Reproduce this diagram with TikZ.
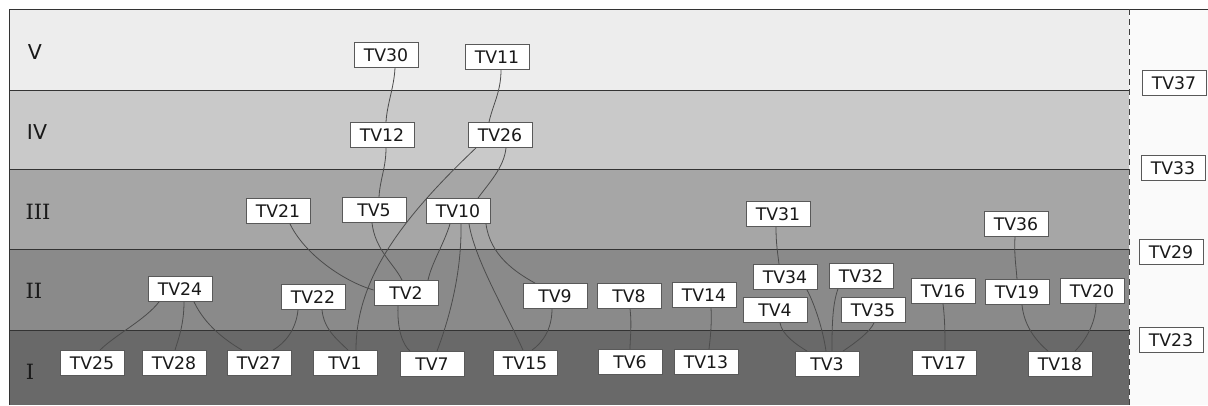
\documentclass[tikz,border=0pt]{standalone}
\usepackage{fontspec}
\newfontfamily\tvfont{DejaVu Sans}
\newfontfamily\lvfont{DejaVu Serif}
\begin{document}
\begin{tikzpicture}[x=1pt,y=-1pt,
  tv/.style={draw=black!65, fill=white, line width=0.8pt, minimum width=64pt,
    minimum height=25pt, inner sep=0pt, font=\tvfont\fontsize{17.3}{18}\selectfont, text=black!90},
  link/.style={draw=black!70, line width=0.8pt},
  bandsep/.style={draw=black!80, line width=0.9pt},
  lvsans/.style={font=\tvfont\fontsize{20.5}{21}\selectfont, text=black!90},
  lvserif/.style={font=\lvfont\fontsize{21}{21}\selectfont, text=black!90}]
\useasboundingbox (0,0) rectangle (1208,405);
% level bands
\fill[white] (0,0) rectangle (1208,405);
\fill[black!7]  (9,9)   rectangle (1129,90);
\fill[black!21] (9,90)  rectangle (1129,169);
\fill[black!35] (9,169) rectangle (1129,249);
\fill[black!46] (9,249) rectangle (1129,330);
\fill[black!59] (9,330) rectangle (1129,405);
\fill[black!2]  (1129,9) rectangle (1208,405);
\draw[bandsep] (9,90) -- (1129,90);
\draw[bandsep] (9,169) -- (1129,169);
\draw[bandsep] (9,249) -- (1129,249);
\draw[bandsep] (9,330) -- (1129,330);
\draw[bandsep] (9,405) -- (9,9) -- (1208,9);
\draw[black!75, line width=0.9pt, dash pattern=on 6pt off 4pt] (1129,9) -- (1129,405);
% level labels
\node[lvsans]  (lV)   at (35,52)  {V};
\node[lvsans]  (lIV)  at (37,132) {IV};
\node[lvserif] (lIII) at (38,212) {III};
\node[lvserif] (lII)  at (34,291) {II};
\node[lvserif] (lI)   at (30,372) {I};
% level V
\node[tv] (TV30) at (386,55) {TV30};
\node[tv] (TV11) at (497,57) {TV11};
% level IV
\node[tv] (TV12) at (382,135) {TV12};
\node[tv] (TV26) at (500,135) {TV26};
% level III
\node[tv] (TV21) at (278,211) {TV21};
\node[tv] (TV5)  at (374,210) {TV5};
\node[tv] (TV10) at (458,211) {TV10};
\node[tv] (TV31) at (778,214) {TV31};
\node[tv] (TV36) at (1016,224) {TV36};
% level II
\node[tv] (TV24) at (180,289) {TV24};
\node[tv] (TV22) at (313,297) {TV22};
\node[tv] (TV2)  at (406,293) {TV2};
\node[tv] (TV9)  at (555,296) {TV9};
\node[tv] (TV8)  at (629,296) {TV8};
\node[tv] (TV14) at (704,295) {TV14};
\node[tv] (TV34) at (785,277) {TV34};
\node[tv] (TV32) at (861,276) {TV32};
\node[tv] (TV4)  at (775,310) {TV4};
\node[tv] (TV35) at (873,310) {TV35};
\node[tv] (TV16) at (943,291) {TV16};
\node[tv] (TV19) at (1017,292) {TV19};
\node[tv] (TV20) at (1092,291) {TV20};
% level I
\node[tv] (TV25) at (92,363)  {TV25};
\node[tv] (TV28) at (174,363) {TV28};
\node[tv] (TV27) at (259,363) {TV27};
\node[tv] (TV1)  at (345,363) {TV1};
\node[tv] (TV7)  at (432,364) {TV7};
\node[tv] (TV15) at (525,363) {TV15};
\node[tv] (TV6)  at (630,362) {TV6};
\node[tv] (TV13) at (706,362) {TV13};
\node[tv] (TV3)  at (827,364) {TV3};
\node[tv] (TV17) at (944,363) {TV17};
\node[tv] (TV18) at (1060,364) {TV18};
% unconnected column
\node[tv] (TV37) at (1174,83)  {TV37};
\node[tv] (TV33) at (1173,168) {TV33};
\node[tv] (TV29) at (1171,252) {TV29};
\node[tv] (TV23) at (1171,340) {TV23};
% links
\draw[link] ([xshift=9]TV30.south) .. controls +(-1,20) and +(1,-18) .. ([xshift=4]TV12.north);
\draw[link] ([xshift=4]TV12.south) .. controls +(0,20) and +(1,-18) .. ([xshift=5]TV5.north);
\draw[link] ([xshift=4]TV11.south) .. controls +(0,22) and +(4,-18) .. ([xshift=-11]TV26.north);
\draw[link] ([xshift=-24]TV26.south) .. controls (400,220) and (356,280) .. ([xshift=11]TV1.north);
\draw[link] ([xshift=6]TV26.south) .. controls +(-2,20) and +(10,-14) .. ([xshift=20]TV10.north);
\draw[link] ([xshift=12]TV21.south) .. controls (305,255) and (345,282) .. ([yshift=3]TV2.west);
\draw[link] ([xshift=-2]TV5.south) .. controls (375,250) and (395,265) .. ([xshift=-4]TV2.north);
\draw[link] ([xshift=-8]TV10.south) .. controls +(-6,20) and +(4,-18) .. ([xshift=22]TV2.north);
\draw[link] ([xshift=3]TV10.south) .. controls (462,280) and (445,330) .. ([xshift=5]TV7.north);
\draw[link] ([xshift=11]TV10.south) .. controls (475,260) and (505,310) .. ([xshift=-2]TV15.north);
\draw[link] ([xshift=28]TV10.south) .. controls (490,255) and (515,272) .. ([xshift=-20]TV9.north);
\draw[link] ([xshift=-8]TV2.south) .. controls (397,330) and (403,345) .. ([xshift=-22]TV7.north);
\draw[link] ([xshift=-15]TV22.south) .. controls (296,330) and (285,343) .. ([xshift=14]TV27.north);
\draw[link] ([xshift=14]TV24.south) .. controls (205,325) and (225,340) .. ([xshift=-17]TV27.north);
\draw[link] ([xshift=9]TV22.south) .. controls (324,330) and (338,340) .. ([xshift=3]TV1.north);
\draw[link] ([xshift=-21]TV24.south) .. controls (145,320) and (115,335) .. ([xshift=8]TV25.north);
\draw[link] ([xshift=4]TV24.south) .. controls (184,325) and (178,340) .. ([xshift=1]TV28.north);
\draw[link] ([xshift=-3]TV9.south) .. controls (552,330) and (542,343) .. ([xshift=7]TV15.north);
\draw[link] ([xshift=1]TV8.south) .. controls (632,325) and (630,340) .. (TV6.north);
\draw[link] ([xshift=7]TV14.south) .. controls (712,325) and (710,340) .. ([xshift=3]TV13.north);
\draw[link] ([xshift=-2]TV31.south) .. controls (776,245) and (778,255) .. ([xshift=-6]TV34.north);
\draw[link] ([xshift=22]TV34.south) .. controls (815,305) and (823,330) .. ([xshift=-1]TV3.north);
\draw[link] ([xshift=-23]TV32.south) .. controls (832,305) and (832,330) .. ([xshift=5]TV3.north);
\draw[link] ([xshift=5]TV4.south) .. controls (782,335) and (797,345) .. ([xshift=-20]TV3.north);
\draw[link] ([xshift=1]TV35.south) .. controls (870,332) and (855,343) .. ([xshift=16]TV3.north);
\draw[link] (TV16.south) .. controls (945,320) and (945,335) .. ([xshift=1]TV17.north);
\draw[link] ([xshift=-1]TV36.south) .. controls (1014,255) and (1016,265) .. (TV19.north);
\draw[link] ([xshift=5]TV19.south) .. controls (1024,325) and (1035,340) .. ([xshift=-12]TV18.north);
\draw[link] ([xshift=4]TV20.south) .. controls (1096,320) and (1088,338) .. ([xshift=15]TV18.north);
\end{tikzpicture}
\end{document}
